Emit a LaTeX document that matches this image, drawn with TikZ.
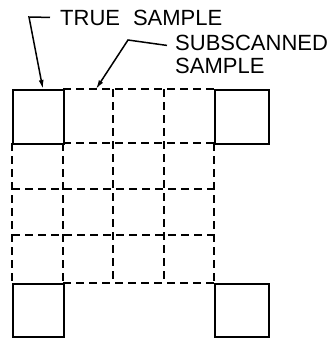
\documentclass[tikz,border=0pt]{standalone}
\usepackage{fontspec}
\setmainfont{Liberation Sans}
\usetikzlibrary{
  arrows.meta,
  positioning
}
\tikzset{>={Latex[length=9pt,width=5pt]}}
\tikzset{font=\fontsize{22}{24}\selectfont}
\tikzset{sample/.style={draw, line width=1.8pt, inner sep=0pt, anchor=north west},
  grid/.style={line width=1.7pt, dash pattern=on 8pt off 5pt},
  leader/.style={line width=1.5pt},
  caption/.style={inner sep=0pt, anchor=base west}}

\begin{document}
\begin{tikzpicture}[x=1pt,y=-1pt]
          \useasboundingbox (0,0) rectangle (327,338);
          % dashed subscan grid
          \foreach \y in {189,235}
            \draw[grid] (12,\y) -- (214,\y);
          \foreach \y in {89,143,283}
            \draw[grid] (63,\y) -- (214,\y);
          \foreach \x in {12,63,214}
            \draw[grid] (\x,143) -- (\x,283);
          \foreach \x in {113,164}
            \draw[grid] (\x,89) -- (\x,283);
          % true samples at the corners
          \node[sample, minimum width=51pt, minimum height=54pt] (tl) at (12,89) {};
          \node[sample, minimum width=54pt, minimum height=54pt] (tr) at (214,89) {};
          \node[sample, minimum width=51pt, minimum height=53pt] (bl) at (12,283) {};
          \node[sample, minimum width=54pt, minimum height=53pt] (br) at (214,283) {};
          % labels
          \node[caption] (true) at (60,25) {TRUE\hspace*{13pt}SAMPLE};
          \node[caption] (sub1) at (175,50) {SUBSCANNED};
          \node[caption] (sub2) at ([yshift=-23pt]sub1.base west) {SAMPLE};
          \coordinate (truebend) at (29,17);
          \coordinate (subbend) at (128,40);
          \coordinate (subend) at (96,89);
          \draw[leader,->] ([xshift=-10pt]true.west) -- (truebend) -- ([xshift=4.5pt]tl.north);
          \draw[leader,->] ([shift={(-8pt,-3pt)}]sub1.west) -- (subbend) -- (subend);
        \end{tikzpicture}
\end{document}
